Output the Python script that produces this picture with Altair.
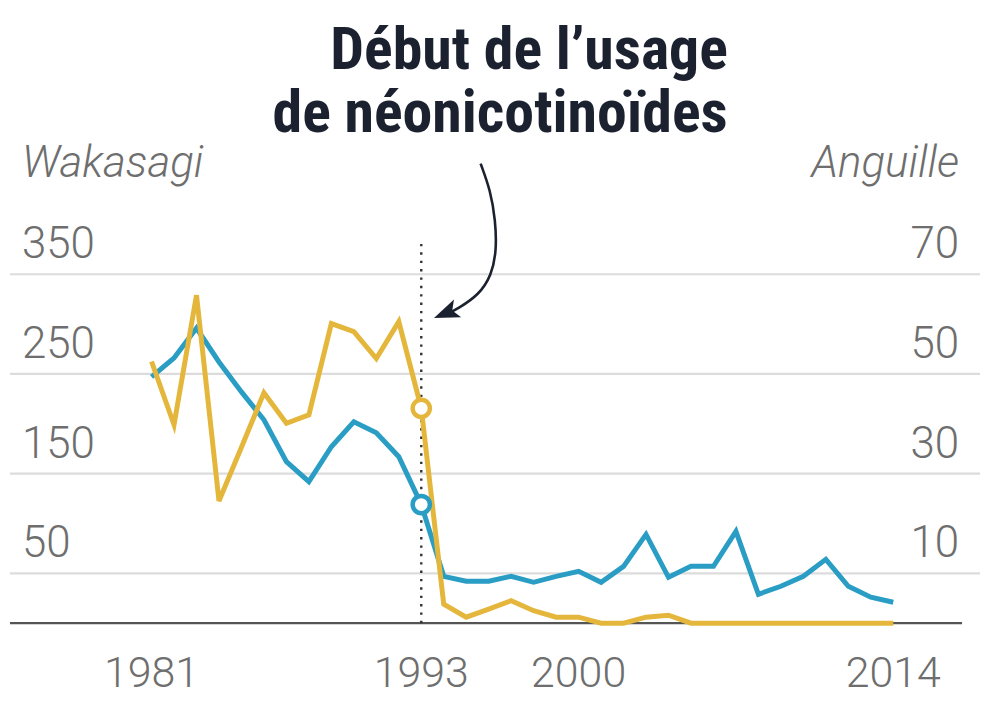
import altair as alt
import pandas as pd

# ---------------- data ----------------
years = [1981, 1982, 1983, 1984, 1985, 1986, 1987, 1988, 1989, 1990, 1991, 1992,
         1993, 1994, 1995, 1996, 1997, 1998, 1999, 2000, 2001, 2002, 2003, 2004,
         2005, 2006, 2007, 2008, 2009, 2010, 2011, 2012, 2013, 2014]
wakasagi = [247, 266, 296, 262, 232, 204, 162, 142, 177, 202, 191, 167,
            119, 47, 42, 42, 47, 41, 47, 52, 41, 57, 89, 46,
            57, 57, 92, 29, 37, 47, 64, 37, 26, 21]
anguille = [52.5, 39.8, 65.8, 24.5, 35.3, 46.2, 40.1, 41.8, 60.1, 58.5, 53.1, 60.5,
            43.1, 3.8, 1.2, 2.8, 4.5, 2.5, 1.2, 1.2, 0.0, 0.0, 1.2, 1.6,
            0.0, 0.0, 0.0, 0.0, 0.0, 0.0, 0.0, 0.0, 0.0, 0.0]

left_ticks = [50, 150, 250, 350]
right_ticks = [10, 30, 50, 70]
x_ticks = [1981, 1993, 2000, 2014]
event_year = 1993
event_top = 384  # top of dotted line, in Wakasagi units

title_lines = ["Début de l’usage", "de néonicotinoïdes"]
left_title = "Wakasagi"
right_title = "Anguille"

# arrow path (annotation), in (year, Wakasagi units)
arrow_x = [1995.64, 1996.08, 1996.30, 1996.35, 1996.13, 1995.55, 1994.66, 1994.22]
arrow_y = [461, 434, 404, 374, 349, 329, 316, 311]
arrow_head = {"x": 1994.09, "y": 311}

# ---------------- styling ----------------
W, H = 975, 689
PX_PER_YEAR = 22.5455
XMIN = 1974.613
XDOM = [XMIN, XMIN + W / PX_PER_YEAR]
LDOM = [-73, 616]
RDOM = [-14.6, 123.2]
BLUE = "#2a9dc4"
YELLOW = "#e4b73c"
GRAY_TXT = "#6e6e6e"
GRID = "#dcdcdc"
DARK = "#1c2130"
NUM_FONT = "Roboto"
TITLE_FONT = "Roboto Condensed, Liberation Sans Narrow, Roboto"


def X(f):
    return alt.X(f, type="quantitative", scale=alt.Scale(domain=XDOM, nice=False, zero=False), axis=None)


def YL(f):
    return alt.Y(f, type="quantitative", scale=alt.Scale(domain=LDOM, nice=False, zero=False), axis=None)


def YR(f):
    return alt.Y(f, type="quantitative", scale=alt.Scale(domain=RDOM, nice=False, zero=False), axis=None)


series = pd.DataFrame({"year": years, "wak": wakasagi, "ang": anguille})

grid = alt.Chart(pd.DataFrame({"v": left_ticks})).mark_rule(color=GRID, strokeWidth=2.2).encode(
    x=alt.value(2), x2=alt.value(W), y=YL("v"))

base = alt.Chart(pd.DataFrame({"v": [0]})).mark_rule(color="#555555", strokeWidth=2.2).encode(
    x=alt.value(2), x2=alt.value(957), y=YL("v"))

left_lab = alt.Chart(pd.DataFrame({"v": left_ticks})).mark_text(
    align="left", baseline="middle", dy=-29, fontSize=44, font=NUM_FONT, fontWeight=300, color=GRAY_TXT
).encode(x=alt.value(14), y=YL("v"), text=alt.Text("v:Q"))

right_lab = alt.Chart(pd.DataFrame({"v": right_ticks})).mark_text(
    align="right", baseline="middle", dy=-29, fontSize=44, font=NUM_FONT, fontWeight=300, color=GRAY_TXT
).encode(x=alt.value(954), y=YR("v"), text=alt.Text("v:Q"))

x_lab = alt.Chart(pd.DataFrame({"yr": x_ticks})).mark_text(
    align="center", baseline="alphabetic", fontSize=43, font=NUM_FONT, fontWeight=300, color=GRAY_TXT
).encode(x=X("yr"), y=alt.value(680), text=alt.Text("yr:N"))

dotted = alt.Chart(pd.DataFrame({"yr": [event_year], "a": [0], "b": [event_top]})).mark_rule(
    color="#333333", strokeWidth=2.4, strokeDash=[2.4, 6]
).encode(x=X("yr"), y=YL("a"), y2=alt.Y2("b"))

blue_line = alt.Chart(series).mark_line(color=BLUE, strokeWidth=5, strokeJoin="miter").encode(
    x=X("year"), y=YL("wak"))

yellow_line = alt.Chart(series).mark_line(color=YELLOW, strokeWidth=5, strokeJoin="miter").encode(
    x=X("year"), y=YR("ang"))

ev = series[series["year"] == event_year]

blue_pt = alt.Chart(ev).mark_point(shape="circle", size=300, filled=False, fill="white", fillOpacity=1,
                                   stroke=BLUE, strokeWidth=4.5, opacity=1).encode(x=X("year"), y=YL("wak"))
yellow_pt = alt.Chart(ev).mark_point(shape="circle", size=300, filled=False, fill="white", fillOpacity=1,
                                     stroke=YELLOW, strokeWidth=4.5, opacity=1).encode(x=X("year"), y=YR("ang"))

arrow = alt.Chart(pd.DataFrame({"x": arrow_x, "y": arrow_y, "o": list(range(len(arrow_x)))})).mark_line(
    color=DARK, strokeWidth=2.6, interpolate="basis"
).encode(x=X("x"), y=YL("y"), order="o:Q")

head = alt.Chart(pd.DataFrame([arrow_head])).mark_point(
    shape="M-1,0 L1,-0.75 L0.55,0 L1,0.75 Z", size=650, filled=True, color=DARK, opacity=1, angle=338
).encode(x=X("x"), y=YL("y"))

t1 = alt.Chart(pd.DataFrame({"t": [title_lines[0]]})).mark_text(
    align="right", baseline="alphabetic", fontSize=60, fontWeight="bold", font=TITLE_FONT, color=DARK
).encode(x=alt.value(722), y=alt.value(60), text="t:N")

t2 = alt.Chart(pd.DataFrame({"t": [title_lines[1]]})).mark_text(
    align="right", baseline="alphabetic", fontSize=60, fontWeight="bold", font=TITLE_FONT, color=DARK
).encode(x=alt.value(722), y=alt.value(123), text="t:N")

lt = alt.Chart(pd.DataFrame({"t": [left_title]})).mark_text(
    align="left", baseline="alphabetic", fontSize=44, font=NUM_FONT, fontWeight=300, fontStyle="italic",
    color=GRAY_TXT
).encode(x=alt.value(14), y=alt.value(168), text="t:N")

rt = alt.Chart(pd.DataFrame({"t": [right_title]})).mark_text(
    align="right", baseline="alphabetic", fontSize=44, font=NUM_FONT, fontWeight=300, fontStyle="italic",
    color=GRAY_TXT
).encode(x=alt.value(954), y=alt.value(168), text="t:N")

chart = alt.layer(
    grid, left_lab, right_lab, x_lab, base, dotted, blue_line, yellow_line, blue_pt, yellow_pt,
    arrow, head, t1, t2, lt, rt
).resolve_scale(y="independent").properties(
    width=W, height=H, autosize=alt.AutoSizeParams(type="none"), padding=0, background="white"
).configure_view(strokeWidth=0, stroke="transparent")

chart.save("out.html", embed_options={"renderer": "svg", "actions": False})
